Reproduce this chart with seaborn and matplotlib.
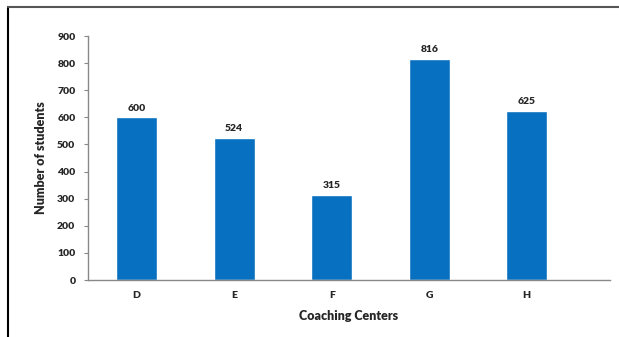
import seaborn as sns
import matplotlib.pyplot as plt
import pandas as pd

centers = ['D', 'E', 'F', 'G', 'H']
students = [600, 524, 315, 816, 625]
yticks = [0, 100, 200, 300, 400, 500, 600, 700, 800, 900]

df = pd.DataFrame({'center': centers, 'students': students})

sns.set_style('white')
plt.rcParams['font.family'] = ['Lato', 'DejaVu Sans']

fig = plt.figure(figsize=(6.19, 3.37), dpi=100)
ax = fig.add_axes([0.142, 0.169, 0.843, 0.724])

sns.barplot(data=df, x='center', y='students', color='#0870C0', saturation=1,
            width=0.42, ax=ax)

for i, v in enumerate(students):
    ax.text(i, v + 18, str(v), ha='center', va='bottom', fontsize=7.5, fontweight='heavy')

ax.set_ylim(0, 900)
ax.set_xlim(-0.5, 4.85)
ax.set_yticks(yticks)
ax.tick_params(axis='y', labelsize=7.5, length=3, width=0.8, color='#888888', left=True, pad=6)
ax.tick_params(axis='x', labelsize=7.5, length=0, pad=8)
for lab in ax.get_xticklabels() + ax.get_yticklabels():
    lab.set_fontweight('heavy')

ax.set_xlabel('Coaching Centers', fontsize=9, fontweight='heavy', labelpad=7)
ax.set_ylabel('Number of students', fontsize=9, fontweight='heavy', labelpad=7)

for s in ['top', 'right']:
    ax.spines[s].set_visible(False)
for s in ['left', 'bottom']:
    ax.spines[s].set_color('#888888')
    ax.spines[s].set_linewidth(1)

# outer frame of the original chart (cropped)
fig.add_artist(plt.Line2D([8/619, 8/619], [0, 1 - 7/337], color='black', lw=1.5))
fig.add_artist(plt.Line2D([8/619, 1], [1 - 7/337, 1 - 7/337], color='#555555', lw=1.5))

fig.savefig('out.png', dpi=100)
